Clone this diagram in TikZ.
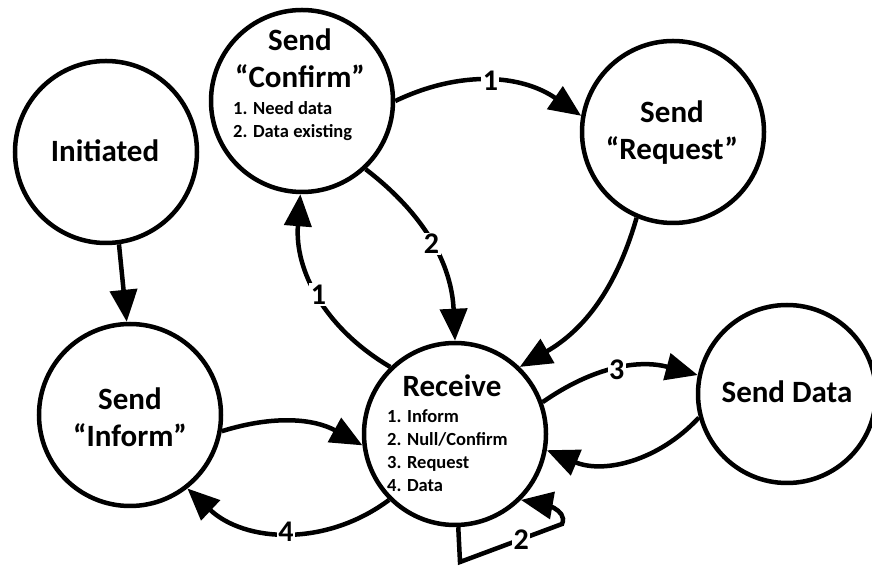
\documentclass[tikz,border=0pt]{standalone}
\usepackage{fontspec}
\setmainfont{Carlito}
\usetikzlibrary{arrows.meta}
\begin{document}
\begin{tikzpicture}[x=1pt,y=1pt,
  state/.style={circle, draw, line width=4.5pt, minimum size=182pt, inner sep=0pt},
  title/.style={font=\fontsize{31}{37}\selectfont\bfseries, align=center, anchor=base, inner sep=0pt},
  items/.style={font=\fontsize{18.5}{23}\selectfont\bfseries, align=left, anchor=base west, inner sep=0pt},
  edge/.style={line width=4.5pt, -{Triangle[length=32pt,width=27pt]}},
  lbl/.style={font=\fontsize{30}{32}\selectfont\bfseries, fill=white, inner sep=1.5pt}]
\useasboundingbox (0,0) rectangle (872,567);

% states
\node[state] (init)    at (106,415) {};
\node[state] (confirm) at (302,466) {};
\node[state] (request) at (673,435) {};
\node[state] (inform)  at (130,152) {};
\node[state] (receive) at (455,133) {};
\node[state, minimum size=178pt] (data) at (787,173) {};

% state texts (multi-line nodes sit on the baseline of their last line)
\node[title] (init-t)    at (105,405) {Initiated};
\node[title] (confirm-t) at (300,479) {Send\\“Confirm”};
\node[items] (confirm-l) at (233,429) {1. Need data\\2. Data existing};
\node[title] (request-t) at (672,407) {Send\\“Request”};
\node[title] (inform-t)  at (130,120) {Send\\“Inform”};
\node[title] (receive-t) at (452,170) {Receive};
\node[items] (receive-l) at (387,75) {1. Inform\\2. Null/Confirm\\3. Request\\4. Data};
\node[title] (data-t)    at (787,164) {Send Data};

% transitions
\draw[edge] (init.-82) -- (inform.92);
\draw[edge] (confirm.0) to[bend left=30] node[lbl] (l1) {1} (request.170);
\draw[edge] (confirm.-47) to[bend left=25] node[lbl] (l2) {2} (receive.90);
\draw[edge] (receive.134) to[bend left=32] node[lbl] (l3) {1} (confirm.-91);
\draw[edge] (request.-113) to[bend left=22] (receive.46);
\draw[edge] (receive.20) to[bend left=25] node[lbl] (l4) {3} (data.168);
\draw[edge] (data.-165) to[bend left=35] (receive.-10);
\draw[edge] (inform.-10) to[bend left=23] (receive.-173);
\draw[edge] (receive.-135) to[bend left=40] node[lbl] (l5) {4} (inform.-52);

% self loop on Receive
\coordinate (loopA) at (460,5);
\coordinate (loopB) at (562,43);
\draw[edge] (receive.-88) -- (loopA) -- node[lbl, pos=0.6] (l6) {2} (loopB)
  to[out=65, in=-10, looseness=0.9] (receive.-45);
\end{tikzpicture}
\end{document}
